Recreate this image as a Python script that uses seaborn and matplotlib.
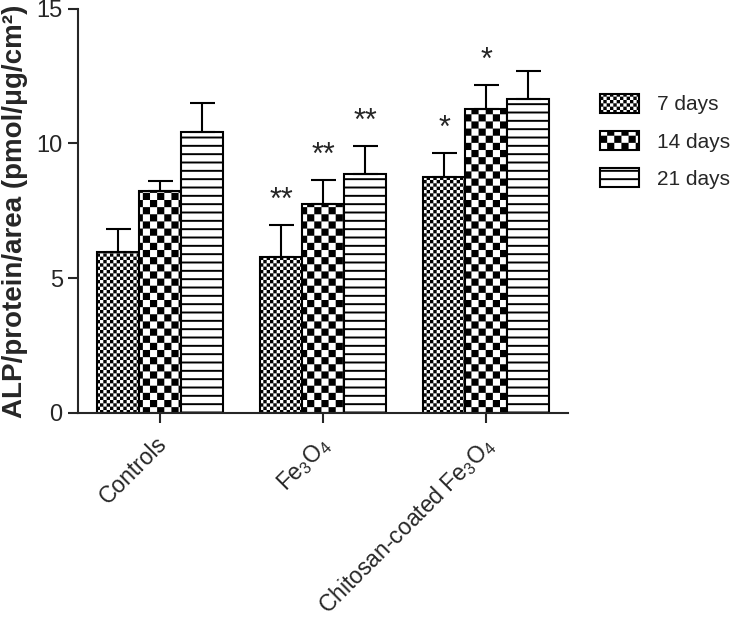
import numpy as np
import pandas as pd
import matplotlib
matplotlib.use("Agg")
import matplotlib.pyplot as plt
import matplotlib.transforms as mtransforms
from matplotlib import hatch as mhatch
from matplotlib.path import Path
import seaborn as sns

# --- data ---
groups = ["Controls", r"Fe$_3$O$_4$", r"Chitosan-coated Fe$_3$O$_4$"]
days = ["7 days", "14 days", "21 days"]
means_7 = [5.97, 5.80, 8.75]
means_14 = [8.25, 7.74, 11.28]
means_21 = [10.41, 8.87, 11.66]
sem_7 = [0.85, 1.17, 0.89]
sem_14 = [0.34, 0.91, 0.89]
sem_21 = [1.09, 1.04, 1.04]
stars_7 = ["", "**", "*"]
stars_14 = ["", "**", "*"]
stars_21 = ["", "**", ""]


# checkerboard hatches (matplotlib has none built in)
class FineChecker(mhatch.HatchPatternBase):
    key = "o"
    cells = 30

    def __init__(self, hatch, density):
        self.n = self.cells if self.key in hatch else 0
        self.num_vertices = 5 * (self.n * self.n // 2)

    def set_vertices_and_codes(self, vertices, codes):
        step = 1.0 / self.n
        inset = 0.0095
        squares = []
        for i in range(self.n):
            for j in range(self.n):
                if (i + j) % 2 == 0:
                    x0, x1 = i * step + inset, (i + 1) * step - inset
                    y0, y1 = j * step + inset, (j + 1) * step - inset
                    squares.append([[x0, y0], [x1, y0], [x1, y1], [x0, y1], [x0, y0]])
        vertices[:] = np.array(squares).reshape(-1, 2)
        codes[:] = np.tile([Path.MOVETO, Path.LINETO, Path.LINETO, Path.LINETO, Path.CLOSEPOLY], len(squares))


class CoarseChecker(FineChecker):
    key = "O"
    cells = 14


mhatch._hatch_types = [mhatch.HorizontalHatch, FineChecker, CoarseChecker]
hatches = ["o", "O", "--"]

sns.set_style("ticks")
plt.rcParams["font.family"] = ["Liberation Sans", "DejaVu Sans"]
plt.rcParams["mathtext.fontset"] = "custom"
plt.rcParams["mathtext.rm"] = "Liberation Sans"
plt.rcParams["mathtext.it"] = "Liberation Sans:italic"
plt.rcParams["mathtext.bf"] = "Liberation Sans:bold"
plt.rcParams["hatch.linewidth"] = 1.4
plt.rcParams["hatch.color"] = "black"

df = pd.DataFrame({
    "group": groups * 3,
    "day": [d for d in days for _ in groups],
    "value": means_7 + means_14 + means_21,
})
sems = [sem_7, sem_14, sem_21]
stars = [stars_7, stars_14, stars_21]

fig = plt.figure(figsize=(7.43, 6.18), dpi=100)
ax = fig.add_axes([0.105, 0.332, 0.6595, 0.6537])

sns.barplot(data=df, x="group", y="value", hue="day", order=groups, hue_order=days,
            palette=["white"] * 3, edgecolor="black", linewidth=1.5, width=0.77,
            errorbar=None, legend=False, saturation=1, ax=ax)

for cont, h, err, st in zip(ax.containers, hatches, sems, stars):
    xs, ys = [], []
    for bar in cont:
        bar.set_hatch(h)
        bar.set_facecolor("white")
        bar.set_edgecolor("black")
        xs.append(bar.get_x() + bar.get_width() / 2)
        ys.append(bar.get_height())
    ax.errorbar(xs, ys, yerr=[np.zeros(len(err)), err], fmt="none", ecolor="black",
                elinewidth=1.5, capsize=9, capthick=1.5, zorder=3)
    for x, y, e, s in zip(xs, ys, err, st):
        if s:
            ax.annotate(s, (x, y + e), xytext=(0, 11.5), textcoords="offset points",
                        ha="center", va="baseline", fontsize=22)

ax.set_ylim(0, 15)
ax.set_xlim(-0.5, 2.5)
ax.set_yticks([0, 5, 10, 15])
ax.set_xlabel("")
ax.set_ylabel("ALP/protein/area (pmol/\u03bcg/cm\u00b2)", fontsize=20, fontweight="bold", labelpad=6)
ax.tick_params(axis="both", width=1.5, length=7.5, labelsize=17, pad=3.5)
ax.set_xticks(range(len(groups)))
ax.set_xticklabels(groups, rotation=45, ha="right", rotation_mode="anchor", fontsize=16.5)
shift = mtransforms.ScaledTranslation(-3 / 72, -3 / 72, fig.dpi_scale_trans)
for lbl in ax.get_xticklabels():
    lbl.set_transform(lbl.get_transform() + shift)
for sp in ["left", "bottom"]:
    ax.spines[sp].set_linewidth(1.5)
sns.despine(ax=ax)

ax.legend(ax.containers, days, loc="upper left", bbox_to_anchor=(600 / 743, 1 - 94 / 618),
          bbox_transform=fig.transFigure, frameon=False, fontsize=15, borderpad=0,
          borderaxespad=0, handlelength=1.85, handleheight=1.0, handletextpad=0.9,
          labelspacing=0.8)

fig.savefig("out.png", dpi=100)
